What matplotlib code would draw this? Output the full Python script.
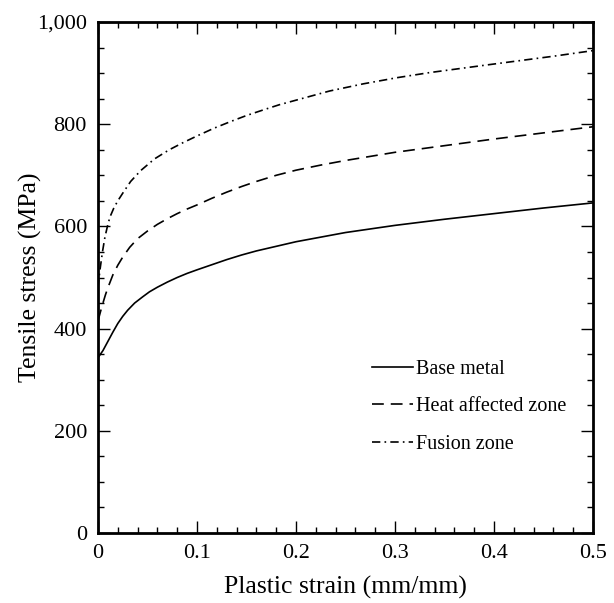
import numpy as np
import matplotlib
matplotlib.use('Agg')
import matplotlib.pyplot as plt
from matplotlib.ticker import MultipleLocator, FuncFormatter

plt.rcParams['font.family'] = ['Liberation Serif', 'DejaVu Serif']
plt.rcParams['lines.scale_dashes'] = False

# values
base_strain = [0, 0.005, 0.01, 0.015, 0.02, 0.025, 0.03, 0.037, 0.045, 0.052, 0.06, 0.07, 0.08, 0.09, 0.1,
               0.115, 0.13, 0.145, 0.16, 0.18, 0.2, 0.225, 0.25, 0.275, 0.3, 0.35, 0.4, 0.45, 0.5]
base_stress = [343, 357, 375, 393, 410, 424, 436, 450, 462, 472, 481, 491, 500, 508, 515,
               525, 535, 544, 552, 561, 570, 579, 588, 595, 602, 614, 625, 636, 646]

haz_strain = [0, 0.0025, 0.005, 0.0075, 0.01, 0.015, 0.02, 0.025, 0.032, 0.04, 0.05, 0.06, 0.07, 0.08, 0.09, 0.1,
              0.115, 0.13, 0.145, 0.16, 0.18, 0.2, 0.225, 0.25, 0.275, 0.3, 0.35, 0.4, 0.45, 0.5]
haz_stress = [415, 433, 450, 466, 480, 505, 524, 540, 559, 576, 591, 604, 615, 625, 634, 642,
              655, 667, 678, 688, 700, 710, 720, 729, 737, 745, 758, 771, 783, 795]

fz_strain = [0, 0.001, 0.002, 0.0045, 0.007, 0.0095, 0.012, 0.016, 0.02, 0.025, 0.033, 0.043, 0.057, 0.072, 0.086, 0.1,
             0.117, 0.135, 0.15, 0.167, 0.183, 0.2, 0.234, 0.268, 0.302, 0.335, 0.393, 0.46, 0.5]
fz_stress = [480, 499, 515, 550, 579, 600, 618, 636, 650, 665, 688, 709, 732, 750, 764, 777,
             792, 806, 817, 828, 838, 847, 865, 879, 891, 901, 916, 933, 944]

labels = ['Base metal', 'Heat affected zone', 'Fusion zone']

fig = plt.figure(figsize=(6.14, 6.03), dpi=100)
ax = fig.add_axes([98/614, 1-533/603, 495/614, 511/603])

ax.plot(base_strain, base_stress, color='black', lw=1.2, ls='-', label=labels[0])
ax.plot(haz_strain, haz_stress, color='black', lw=1.2, ls=(0, (8.5, 5)), label=labels[1])
ax.plot(fz_strain, fz_stress, color='black', lw=1.2, ls=(0, (6, 3, 1.2, 3)), label=labels[2])

ax.set_xlim(0, 0.5)
ax.set_ylim(0, 1000)
ax.xaxis.set_major_locator(MultipleLocator(0.1))
ax.xaxis.set_minor_locator(MultipleLocator(0.02))
ax.yaxis.set_major_locator(MultipleLocator(200))
ax.yaxis.set_minor_locator(MultipleLocator(50))
ax.xaxis.set_major_formatter(FuncFormatter(lambda v, p: '0' if v == 0 else '{:g}'.format(round(v, 2))))
ax.yaxis.set_major_formatter(FuncFormatter(lambda v, p: '{:,.0f}'.format(v)))

ax.tick_params(which='both', direction='in', top=True, right=True, width=1.0, labelsize=16, pad=8)
ax.tick_params(which='major', length=8.5)
ax.tick_params(which='minor', length=4.3)
for s in ax.spines.values():
    s.set_linewidth(2)

ax.set_xlabel('Plastic strain (mm/mm)', fontsize=18.5)
ax.set_ylabel('Tensile stress (MPa)', fontsize=18.5)
ax.xaxis.set_label_coords(0.5, -0.084)
ax.yaxis.set_label_coords(-0.113, 0.5)

ax.legend(loc='center left', bbox_to_anchor=(0.554, 0.247), frameon=False, fontsize=14.5,
          handlelength=2.0, handletextpad=0.15, labelspacing=0.9, borderpad=0, borderaxespad=0)

fig.savefig('out.png', dpi=100)
